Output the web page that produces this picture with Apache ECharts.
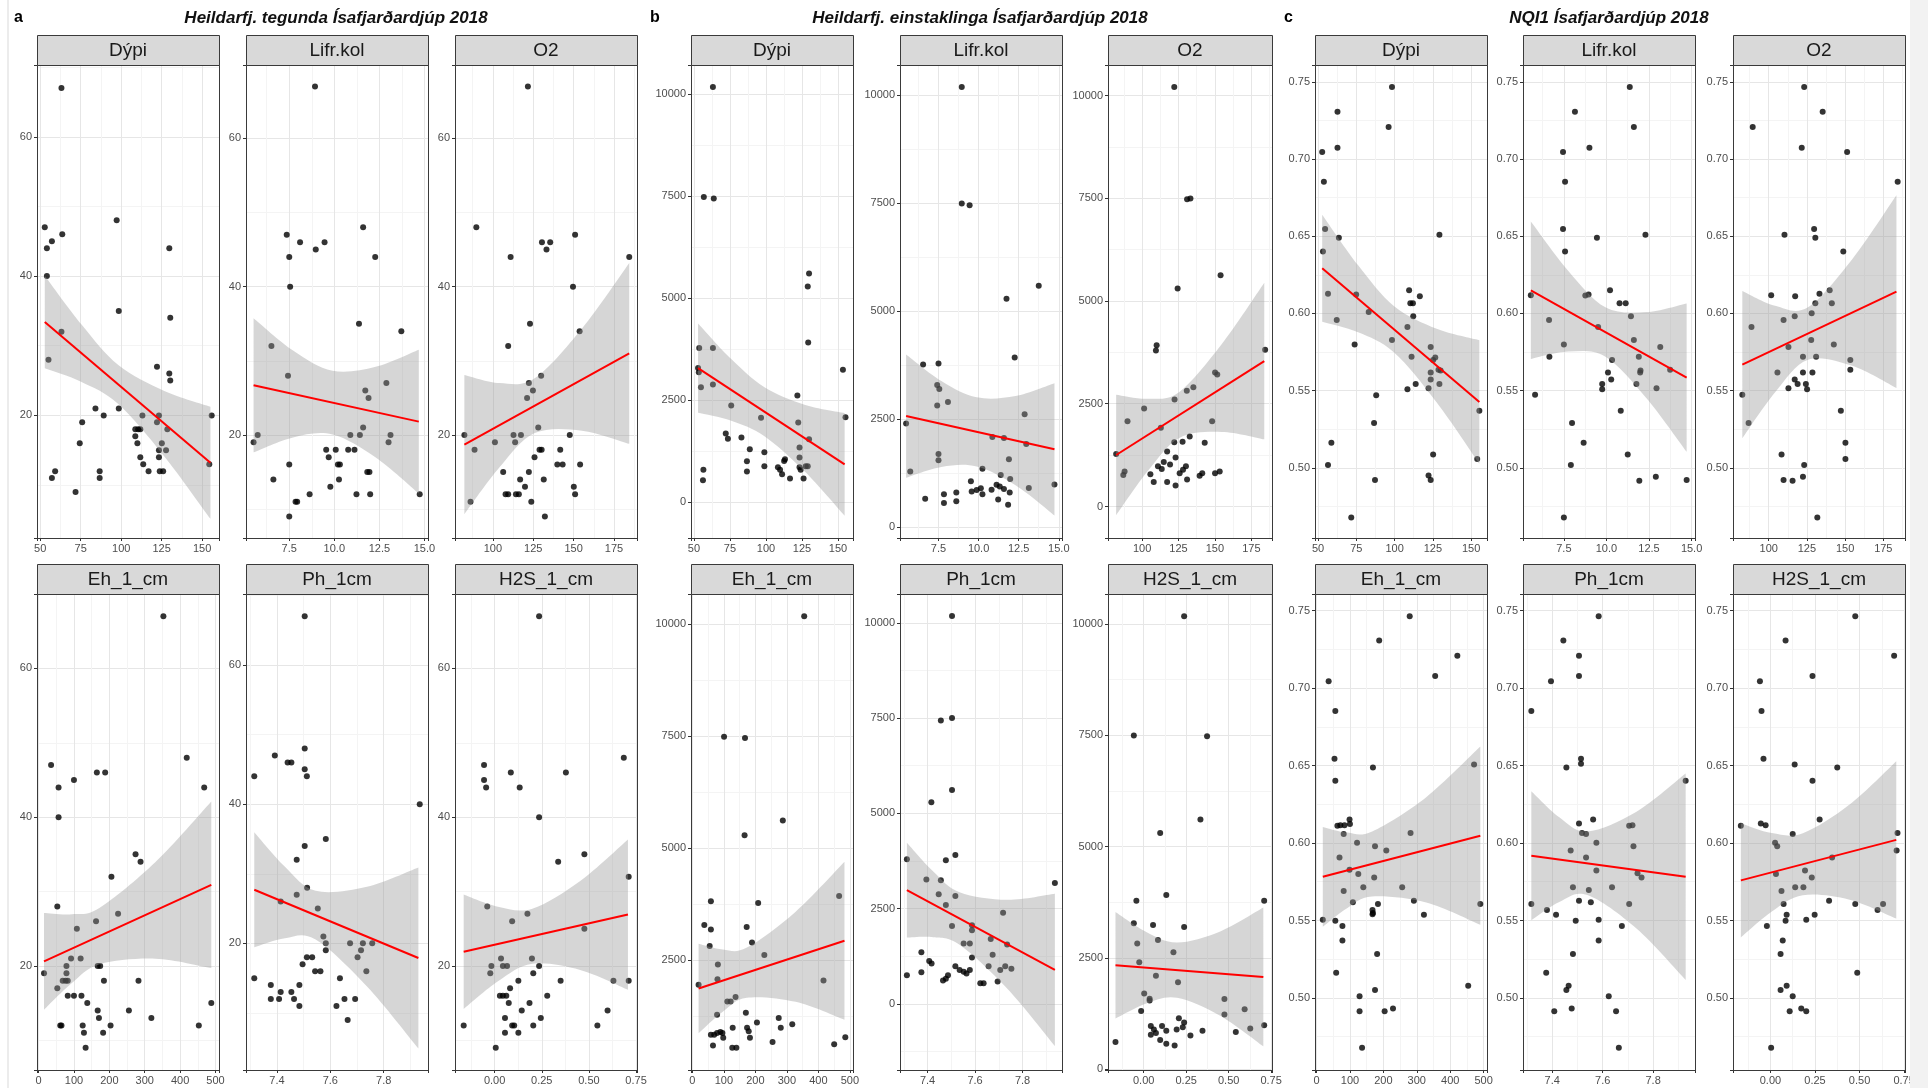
<!DOCTYPE html>
<html><head><meta charset="utf-8">
<script src="https://cdn.jsdelivr.net/npm/echarts@6.0.0/dist/echarts.min.js"></script>
<style>html,body{margin:0;padding:0;background:#fff}#c{width:1928px;height:1088px}</style>
</head><body><div id="c"></div>
<script>
// ---------------- DATA ----------------
const predictors = ['Dýpi','Lifr.kol','O2','Eh_1_cm','Ph_1cm','H2S_1_cm'];
const groupLetters = ['a','b','c'];
const groupTitles = ['Heildarfj. tegunda Ísafjarðardjúp 2018','Heildarfj. einstaklinga Ísafjarðardjúp 2018','NQI1 Ísafjarðardjúp 2018'];

// x-axis extents and tick steps per predictor
const xRanges = [[48,160.4],[5.1,15.2],[76.6,189.2],[-4.5,510],[7.284,7.966],[-0.21,0.755]];
const xSteps = [25,2.5,25,100,0.2,0.25];
const xDecimals = [0,1,0,0,1,2];
// y-axis extents per group / panel and tick steps per group
const yRanges = [
  [[2.4,70.3],[6.1,69.9],[6.1,69.9],[6.0,70.0],[1.8,70.2],[6.0,70.0]],
  [[-876,10720],[-260,10698],[-767,10742],[47,10666],[-1733,10756],[-16,10670]],
  [[0.4546,0.7609],[0.4546,0.7609],[0.4546,0.7609],[0.4535,0.7607],[0.4535,0.7607],[0.4535,0.7607]]
];
const ySteps = [20,2500,0.05];
const yDecimals = [0,0,2];

// ---- group a: Heildarfj. tegunda ----
const a_dypi = [[63.1,67],[52.8,47],[54.1,44],[57.2,45],[63.6,46],[54.1,40],[55.1,28],[63.1,32],[57.2,11],[59.2,12],[71.8,9],[74.4,16],[75.9,19],[84.1,21],[89.2,20],[86.7,12],[86.7,11],[97.2,48],[98.5,35],[98.5,21],[108.7,18],[110.5,18],[111.8,18],[108.7,17],[110.0,16],[111.8,14],[113.1,20],[113.6,13],[116.9,12],[122.1,27],[122.1,19],[123.3,20],[123.3,15],[123.3,14],[123.8,12],[125.9,12],[125.1,16],[127.7,15],[128.5,18],[129.7,44],[130.3,34],[129.7,26],[130.3,25],[155.9,20],[154.4,13]];
const a_lifr = [[8.93,67],[5.52,19],[5.75,20],[6.51,32],[6.62,14],[7.36,47],[7.5,44],[7.55,40],[7.43,28],[7.5,16],[7.5,9],[7.85,11],[7.94,11],[8.1,46],[8.63,12],[8.97,45],[9.46,46],[9.55,18],[9.69,17],[9.78,13],[10.08,18],[10.2,16],[10.31,16],[10.26,14],[10.77,18],[10.89,20],[11.12,18],[11.23,12],[11.37,35],[11.42,20],[11.6,48],[11.6,21],[11.72,26],[11.9,25],[11.83,15],[11.95,15],[11.99,12],[12.27,44],[12.89,27],[13.01,19],[13.12,20],[13.72,34],[14.74,12]];
const a_o2 = [[121.7,67],[89.8,48],[82.4,20],[88.7,18],[86.2,11],[101.3,19],[106.4,15],[109.5,32],[111.0,44],[112.8,20],[113.8,19],[117.4,20],[107.9,12],[109.5,12],[114.3,12],[116.1,12],[116.9,14],[119.9,13],[121.2,25],[122.3,27],[123.0,35],[124.8,26],[122.3,15],[123.8,11],[125.8,17],[128.1,21],[128.9,18],[130.2,18],[129.9,28],[130.4,46],[133.2,45],[135.5,46],[131.5,14],[132.2,9],[139.9,16],[141.7,18],[143.2,16],[147.6,20],[149.6,40],[150.9,47],[150.1,13],[150.9,12],[153.7,34],[154.0,16],[184.4,44]];
const a_eh = [[352.8,67],[35.3,47],[56.5,44],[56.5,40],[100.0,45],[164.7,46],[188.2,46],[418.8,48],[468.2,44],[52.9,28],[15.3,19],[52.9,17],[61.2,12],[64.7,12],[68.2,18],[76.5,18],[82.4,18],[78.8,19],[78.8,20],[82.4,16],[100.0,16],[91.8,21],[108.2,25],[118.8,21],[121.2,16],[124.7,12],[128.2,11],[132.9,9],[137.6,15],[162.4,26],[167.1,20],[174.1,20],[167.1,14],[170.6,13],[182.4,11],[184.7,18],[203.5,12],[205.9,32],[224.7,27],[255.3,14],[274.1,35],[288.2,34],[282.4,18],[318.8,13],[452.9,12],[488.2,15]];
const a_ph = [[7.504,67],[7.315,44],[7.392,47],[7.440,46],[7.454,46],[7.504,48],[7.504,45],[7.512,44],[7.583,35],[7.504,34],[7.474,32],[7.513,28],[7.474,27],[7.414,26],[7.553,25],[7.574,21],[7.583,20],[7.583,19],[7.674,20],[7.722,20],[7.757,20],[7.715,19],[7.702,18],[7.735,16],[7.315,15],[7.377,14],[7.377,12],[7.408,12],[7.414,13],[7.454,13],[7.464,12],[7.484,11],[7.484,14],[7.496,17],[7.512,18],[7.532,18],[7.543,16],[7.563,16],[7.623,11],[7.636,15],[7.653,12],[7.665,9],[7.693,12],[7.935,40]];
const a_h2s = [[0.236,67],[-0.056,47],[-0.056,45],[-0.045,44],[0.086,46],[0.133,44],[0.236,40],[0.378,46],[0.685,48],[0.337,34],[0.476,35],[0.711,32],[-0.039,28],[0.093,26],[0.174,27],[0.476,25],[-0.164,12],[-0.023,19],[-0.017,20],[0.034,21],[0.044,20],[0.066,20],[0.028,16],[0.044,16],[0.062,16],[0.082,17],[0.075,15],[0.055,13],[0.055,11],[0.093,12],[0.104,12],[0.126,18],[0.126,11],[0.144,14],[0.006,9],[0.185,15],[0.198,21],[0.205,19],[0.236,20],[0.205,12],[0.245,13],[0.279,16],[0.350,18],[0.545,12],[0.599,14],[0.630,18],[0.711,18]];

// ---- group b: Heildarfj. einstaklinga ----
const b_dypi = [[63.2,10180],[56.9,7482],[63.8,7448],[53.7,3780],[63.2,3780],[52.9,3290],[53.4,3187],[54.9,2818],[63.2,2886],[75.9,2371],[72.1,1684],[73.6,1555],[83.0,1589],[88.8,1297],[86.8,1005],[86.8,756],[96.6,2070],[98.9,1228],[98.9,885],[108.3,859],[109.8,799],[111.2,687],[112.6,1014],[113.2,1057],[116.7,584],[121.8,2620],[122.4,1958],[123.3,1340],[123.3,1100],[123.3,859],[124.1,799],[126.1,584],[127.6,885],[129.0,885],[129.9,1546],[129.0,5291],[129.9,5609],[129.3,3917],[153.4,3247],[155.2,2087],[56.6,799],[56.3,541]];
const b_lifr = [[8.95,10187],[8.95,7492],[9.44,7451],[13.75,5585],[11.74,5284],[12.25,3920],[6.54,3758],[7.5,3783],[7.42,3287],[7.55,3190],[7.42,2808],[8.09,2890],[5.48,2395],[12.87,2606],[12.97,1916],[10.86,2078],[11.58,2054],[7.5,1688],[7.5,1542],[11.89,1567],[5.74,1283],[10.24,1347],[6.67,649],[7.84,755],[7.84,552],[8.61,795],[8.61,593],[9.52,1055],[9.57,820],[9.88,852],[10.14,893],[10.24,755],[10.81,860],[11.12,974],[11.38,1201],[11.32,933],[11.58,877],[11.97,1104],[11.94,795],[11.22,633],[11.84,511],[13.13,901],[14.73,982]];
const b_o2 = [[122.1,10204],[130.9,7476],[133.2,7493],[153.9,5627],[124.4,5303],[184.5,3811],[110.0,3922],[109.5,3794],[150.1,3257],[151.6,3214],[135.2,2899],[130.7,2813],[122.3,2600],[101.4,2387],[90.0,2072],[148.1,2072],[112.9,1918],[82.2,1279],[132.7,1705],[127.8,1577],[122.1,1560],[143.0,1552],[117.2,1338],[123.0,1194],[114.9,1083],[119.2,1023],[110.9,980],[113.5,912],[130.1,980],[128.1,895],[125.8,810],[105.7,784],[108.0,597],[117.2,597],[123.0,512],[130.9,656],[87.1,767],[88.0,853],[139.5,750],[141.3,810],[150.1,810],[153.3,853]];
const b_eh = [[355,10172],[100.5,7484],[167.0,7453],[287.1,5611],[165.7,5282],[58.7,3809],[208.8,3770],[465.9,3926],[37.8,3284],[58.7,3182],[172.3,3237],[54.8,2813],[189.2,2892],[80.9,2398],[228.4,2610],[19.6,1951],[79.6,2069],[416.3,2045],[110.9,1575],[121.4,1575],[137.0,1677],[78.3,1277],[169.7,1324],[274.1,1207],[204.9,1105],[280.6,987],[317.1,1066],[127.9,987],[173.6,987],[178.8,909],[182.7,768],[58.7,831],[69.2,831],[78.3,870],[88.7,893],[97.9,768],[95.3,870],[65.3,596],[126.6,541],[139.6,541],[254.5,674],[450.2,619],[485.5,776]];
const b_ph = [[7.503,10176],[7.503,7503],[7.456,7438],[7.503,5613],[7.416,5291],[7.313,3797],[7.477,3770],[7.517,3908],[7.395,3263],[7.456,3244],[7.936,3171],[7.447,2876],[7.517,2830],[7.477,2599],[7.718,2396],[7.503,2046],[7.587,2065],[7.587,1936],[7.666,1705],[7.552,1585],[7.578,1585],[7.735,1558],[7.674,1290],[7.374,1355],[7.407,1124],[7.417,1060],[7.587,1217],[7.313,756],[7.374,830],[7.517,986],[7.535,894],[7.552,848],[7.578,894],[7.564,802],[7.486,756],[7.477,664],[7.465,618],[7.657,986],[7.706,894],[7.727,986],[7.753,922],[7.622,544],[7.636,544],[7.695,590]];
const b_h2s = [[0.238,10173],[-0.058,7492],[0.373,7476],[0.334,5607],[0.097,5307],[0.133,3911],[-0.043,3785],[0.709,3785],[-0.058,3281],[0.055,3241],[0.238,3194],[-0.038,2823],[0.084,2902],[0.175,2626],[-0.026,2405],[0.072,2098],[0.202,1956],[0.003,1703],[0.035,1585],[0.035,1546],[0.475,1577],[-0.015,1309],[0.475,1230],[0.594,1349],[0.207,1143],[0.238,1049],[0.230,946],[0.042,970],[0.060,891],[0.072,812],[0.042,773],[0.108,970],[0.133,867],[0.097,655],[0.133,576],[0.182,536],[0.194,891],[0.275,757],[0.346,867],[0.542,836],[0.627,915],[0.709,986],[-0.166,615]];

// ---- group c: NQI1 ----
const c_dypi = [[98.3,0.7466],[96.1,0.7207],[62.7,0.7307],[62.7,0.7073],[52.7,0.7046],[53.8,0.6853],[54.6,0.6547],[53.2,0.6402],[63.6,0.6490],[129.3,0.6509],[56.5,0.6127],[62.2,0.5957],[74.9,0.6123],[73.9,0.5799],[83.1,0.6010],[98.3,0.5828],[109.5,0.6150],[108.4,0.5912],[110.3,0.6066],[112.0,0.6066],[112.2,0.5982],[116.5,0.6112],[111.1,0.5719],[108.4,0.5510],[113.8,0.5544],[122.2,0.5515],[123.6,0.5783],[123.6,0.5617],[123.6,0.5572],[125.2,0.5699],[126.6,0.5715],[128.7,0.5635],[130.1,0.5631],[129.3,0.5544],[125.2,0.5086],[122.2,0.4950],[123.6,0.4921],[87.2,0.4921],[86.6,0.5290],[88.0,0.5470],[58.7,0.5163],[56.5,0.5018],[71.7,0.4678],[155.4,0.5370],[154.0,0.5057]];
const c_lifr = [[11.37,0.7466],[11.61,0.7207],[8.15,0.7307],[9.0,0.7073],[7.45,0.7046],[7.57,0.6853],[7.45,0.6547],[7.57,0.6402],[9.44,0.6490],[12.29,0.6509],[5.56,0.6118],[6.63,0.5957],[8.76,0.6116],[8.95,0.6123],[7.5,0.5799],[9.51,0.5912],[10.21,0.6150],[10.77,0.6066],[11.13,0.6066],[11.44,0.5982],[11.61,0.5828],[10.33,0.5699],[6.65,0.5719],[11.90,0.5719],[13.16,0.5783],[10.09,0.5617],[10.28,0.5572],[11.98,0.5617],[12.0,0.5631],[9.75,0.5544],[9.75,0.5510],[11.76,0.5544],[12.94,0.5515],[13.74,0.5635],[5.81,0.5474],[10.84,0.5370],[7.98,0.5290],[8.66,0.5163],[7.91,0.5018],[11.25,0.5086],[12.90,0.4943],[11.93,0.4916],[14.71,0.4921],[7.5,0.4678]];
const c_o2 = [[123.2,0.7466],[135.3,0.7307],[89.5,0.7207],[121.6,0.7073],[151.3,0.7046],[184.4,0.6853],[110.3,0.6509],[129.7,0.6547],[130.5,0.6490],[148.8,0.6402],[101.6,0.6118],[117.3,0.6112],[133.2,0.6127],[139.9,0.6150],[141.3,0.6066],[130.5,0.6066],[128.1,0.6002],[109.7,0.5957],[117.0,0.5982],[88.7,0.5912],[127.8,0.5828],[112.9,0.5783],[142.6,0.5799],[122.4,0.5719],[131.0,0.5719],[153.4,0.5699],[153.4,0.5635],[105.7,0.5617],[122.4,0.5617],[128.6,0.5617],[117.0,0.5572],[118.9,0.5544],[124.3,0.5544],[112.9,0.5515],[125.1,0.5510],[82.7,0.5474],[86.8,0.5290],[147.2,0.5370],[150.2,0.5163],[150.2,0.5057],[108.4,0.5086],[123.2,0.5018],[109.7,0.4921],[115.6,0.4916],[122.4,0.4943],[131.8,0.4678]];
const c_eh = [[278.8,0.7464],[187.5,0.7307],[421.3,0.7208],[355.0,0.7078],[36.3,0.7044],[56.3,0.6852],[53.8,0.6544],[56.3,0.6401],[168.8,0.6487],[471.3,0.6507],[62.5,0.6111],[71.3,0.6115],[83.8,0.6115],[98.8,0.6151],[100.0,0.6122],[81.3,0.6058],[281.3,0.6065],[121.3,0.6002],[68.8,0.5907],[175.0,0.5979],[208.8,0.5952],[98.8,0.5827],[125.0,0.5800],[172.5,0.5777],[81.3,0.5691],[140.0,0.5714],[256.3,0.5714],[108.8,0.5617],[183.8,0.5607],[167.5,0.5567],[167.5,0.5540],[168.8,0.5549],[291.3,0.5628],[321.3,0.5537],[490.0,0.5607],[18.8,0.5505],[56.3,0.5499],[77.5,0.5465],[77.5,0.5370],[181.3,0.5283],[58.8,0.5163],[175.0,0.5052],[128.8,0.5011],[128.8,0.4914],[203.8,0.4914],[228.8,0.4932],[453.8,0.5079],[136.3,0.4678]];
const c_ph = [[7.584,0.7464],[7.444,0.7307],[7.506,0.7208],[7.506,0.7078],[7.395,0.7044],[7.317,0.6852],[7.514,0.6544],[7.514,0.6512],[7.456,0.6487],[7.929,0.6401],[7.562,0.6151],[7.506,0.6126],[7.518,0.6065],[7.534,0.6058],[7.705,0.6111],[7.718,0.6115],[7.575,0.6002],[7.722,0.5979],[7.473,0.5952],[7.534,0.5907],[7.575,0.5822],[7.738,0.5805],[7.754,0.5777],[7.482,0.5714],[7.545,0.5696],[7.637,0.5714],[7.317,0.5607],[7.506,0.5628],[7.553,0.5617],[7.705,0.5607],[7.379,0.5567],[7.415,0.5537],[7.493,0.5499],[7.584,0.5505],[7.676,0.5465],[7.584,0.5370],[7.482,0.5283],[7.376,0.5163],[7.456,0.5052],[7.465,0.5079],[7.624,0.5011],[7.408,0.4914],[7.477,0.4932],[7.653,0.4914],[7.664,0.4678]];
const c_h2s = [[0.476,0.7464],[0.085,0.7307],[0.694,0.7208],[0.236,0.7078],[-0.059,0.7044],[-0.050,0.6852],[-0.039,0.6544],[0.136,0.6507],[0.375,0.6487],[0.236,0.6401],[-0.166,0.6111],[-0.054,0.6126],[-0.027,0.6115],[0.276,0.6151],[0.125,0.6058],[0.713,0.6065],[0.026,0.6002],[0.038,0.5979],[0.708,0.5952],[0.346,0.5907],[0.031,0.5800],[0.194,0.5822],[0.232,0.5777],[0.062,0.5691],[0.139,0.5714],[0.185,0.5714],[0.074,0.5607],[0.329,0.5628],[0.476,0.5607],[0.601,0.5567],[0.632,0.5607],[0.091,0.5537],[0.085,0.5499],[0.201,0.5505],[0.248,0.5537],[-0.020,0.5465],[0.069,0.5370],[0.057,0.5283],[0.487,0.5163],[0.057,0.5052],[0.091,0.5079],[0.125,0.5011],[0.108,0.4914],[0.173,0.4932],[0.201,0.4914],[0.004,0.4678]];

// ---- linear fits (end points) ----
const a_dypi_fit = [[52.8,33.4],[155.1,13.2]];
const a_lifr_fit = [[5.52,26.7],[14.69,21.8]];
const a_o2_fit = [[82.4,18.7],[184.4,31.0]];
const a_eh_fit = [[15.3,20.6],[488.2,30.9]];
const a_ph_fit = [[7.315,27.7],[7.930,17.9]];
const a_h2s_fit = [[-0.164,21.9],[0.707,26.9]];
const b_dypi_fit = [[52.9,3290],[154.6,928]];
const b_lifr_fit = [[5.48,2565],[14.73,1794]];
const b_o2_fit = [[82.2,1253],[183.9,3538]];
const b_eh_fit = [[19.6,1865],[482.9,2931]];
const b_ph_fit = [[7.313,2986],[7.936,894]];
const b_h2s_fit = [[-0.166,2334],[0.704,2074]];
const c_dypi_fit = [[52.7,0.6293],[155.4,0.5427]];
const c_lifr_fit = [[5.56,0.6150],[14.71,0.5585]];
const c_o2_fit = [[82.7,0.5669],[183.6,0.6141]];
const c_eh_fit = [[18.8,0.5782],[490,0.6047]];
const c_ph_fit = [[7.317,0.5918],[7.929,0.5782]];
const c_h2s_fit = [[-0.166,0.5759],[0.706,0.6020]];

// ---- confidence bands [x, lower, upper] ----
const a_dypi_band = [[52.8,26.75,40.05],[75.5,24.8,33.04],[98.2,21.63,27.23],[126.65,14.11,23.51],[155.1,5.15,21.25]];
const a_lifr_band = [[5.52,17.65,35.75],[7.71,19.67,31.39],[9.90,20.06,28.66],[12.3,16.96,29.2],[14.69,12.1,31.5]];
const a_o2_band = [[82.4,9.3,28.1],[104.15,15.63,27.01],[125.9,20.25,27.65],[155.15,20.58,34.36],[184.4,18.8,43.2]];
const a_eh_band = [[15.3,14.1,27.1],[94.1,17.7,26.94],[172.9,20.23,27.83],[330.55,20.97,33.97],[488.2,19.7,42.1]];
const a_ph_band = [[7.315,19.45,35.95],[7.43,20.75,30.99],[7.545,20.54,27.54],[7.7375,13.8,28.14],[7.930,4.9,30.9]];
const a_h2s_band = [[-0.164,14.2,29.6],[0.018,17.94,27.96],[0.200,20.29,27.69],[0.454,19.46,31.42],[0.707,16.8,37.0]];
const b_dypi_band = [[52.9,2195,4385],[75.94,2000,3510],[98.98,1620,2820],[126.79,758,2390],[154.6,-330,2186]];
const b_lifr_band = [[5.48,1137,3993],[7.68,1387,3377],[9.88,1398,2998],[12.305,964,3028],[14.73,264,3324]];
const b_o2_band = [[82.2,-213,2719],[103.9,862,2620],[125.6,1668,2788],[154.75,1814,3952],[183.9,1633,5443]];
const b_eh_band = [[19.6,866,2864],[96.28,1345,2737],[172.96,1658,2778],[327.93,1568,3580],[482.9,1168,4694]];
const b_ph_band = [[7.313,1742,4230],[7.424,1750,3476],[7.5347,1552,2932],[7.735,406,2732],[7.936,-1102,2890]];
const b_h2s_band = [[-0.166,1139,3529],[0.015,1477,3083],[0.196,1606,2846],[0.450,1204,3096],[0.704,517,3631]];
const c_dypi_band = [[52.7,0.5946,0.6640],[76.2,0.5878,0.6312],[99.7,0.5747,0.6047],[127.55,0.5424,0.5901],[155.4,0.5027,0.5827]];
const c_lifr_band = [[5.56,0.5705,0.6595],[7.75,0.5753,0.6277],[9.94,0.5720,0.6040],[12.325,0.5455,0.6009],[14.71,0.5105,0.6065]];
const c_o2_band = [[82.7,0.5192,0.6146],[104.2,0.5490,0.6050],[125.7,0.5700,0.6040],[154.65,0.5661,0.6351],[183.6,0.5517,0.6765]];
const c_eh_band = [[18.8,0.5460,0.6104],[92.65,0.5581,0.6067],[166.5,0.5655,0.6075],[328.25,0.5616,0.6296],[490,0.5472,0.6622]];
const c_ph_band = [[7.317,0.5502,0.6334],[7.428,0.5620,0.6166],[7.5394,0.5664,0.6074],[7.734,0.5448,0.6202],[7.929,0.5116,0.6448]];
const c_h2s_band = [[-0.166,0.5390,0.6128],[0.008,0.5558,0.6064],[0.182,0.5663,0.6063],[0.444,0.5634,0.6248],[0.706,0.5512,0.6528]];

const points = [[a_dypi,a_lifr,a_o2,a_eh,a_ph,a_h2s],[b_dypi,b_lifr,b_o2,b_eh,b_ph,b_h2s],[c_dypi,c_lifr,c_o2,c_eh,c_ph,c_h2s]];
const fits = [[a_dypi_fit,a_lifr_fit,a_o2_fit,a_eh_fit,a_ph_fit,a_h2s_fit],[b_dypi_fit,b_lifr_fit,b_o2_fit,b_eh_fit,b_ph_fit,b_h2s_fit],[c_dypi_fit,c_lifr_fit,c_o2_fit,c_eh_fit,c_ph_fit,c_h2s_fit]];
const bands = [[a_dypi_band,a_lifr_band,a_o2_band,a_eh_band,a_ph_band,a_h2s_band],[b_dypi_band,b_lifr_band,b_o2_band,b_eh_band,b_ph_band,b_h2s_band],[c_dypi_band,c_lifr_band,c_o2_band,c_eh_band,c_ph_band,c_h2s_band]];

// ---------------- LAYOUT / STYLE ----------------
const FONT = "'Liberation Sans', Arial, sans-serif";
const colLeft = [[37,246,455],[691,900,1108],[1315,1523,1733]];
const colWidth = [182,162,164];
const colWidths = [[182,182,182],[162,162,164],[172,172,172]];
const rowTop = [65,594];
const rowHeight = [473,476];
const stripTop = [35,564];
const stripH = 30;
const titleX = [336,980,1609];
const letterX = [14,650,1284];
const MAJOR = '#e6e6e6', MINOR = '#f4f4f4', BORDER = '#3a3a3a';

function fmt(step, dec){
  return function(v){
    const r = v/step;
    return Math.abs(r - Math.round(r)) < 1e-6 ? v.toFixed(dec) : '';
  };
}

// Catmull-Rom curve through pixel points, as cubic Bezier path commands
function curveCmds(pts){
  let d = '';
  for (let i=0; i<pts.length-1; i++){
    const p0 = pts[i-1] || pts[i], p1 = pts[i], p2 = pts[i+1], p3 = pts[i+2] || pts[i+1];
    const c1x = p1[0] + (p2[0]-p0[0])/6, c1y = p1[1] + (p2[1]-p0[1])/6;
    const c2x = p2[0] - (p3[0]-p1[0])/6, c2y = p2[1] - (p3[1]-p1[1])/6;
    d += ' C' + c1x + ',' + c1y + ' ' + c2x + ',' + c2y + ' ' + p2[0] + ',' + p2[1];
  }
  return d;
}
function bandRenderer(bd){
  return function(params, api){
    if (params.dataIndex !== 0) return null;
    const up = bd.map(d => api.coord([d[0], d[2]]));
    const lo = bd.map(d => api.coord([d[0], d[1]])).reverse();
    let d = 'M' + up[0][0] + ',' + up[0][1] + curveCmds(up);
    d += ' L' + lo[0][0] + ',' + lo[0][1] + curveCmds(lo) + ' Z';
    return {type:'path', shape:{pathData:d}, style:{fill:'rgba(153,153,153,0.4)', stroke:null}};
  };
}

const grids=[], xAxes=[], yAxes=[], series=[], graphics=[];
let k=0;
for (let g=0; g<3; g++){
  graphics.push({type:'text', x:letterX[g], y:18, z:20, style:{text:groupLetters[g], font:"bold 16px "+FONT, fill:'#000', textAlign:'left', textVerticalAlign:'middle'}});
  graphics.push({type:'text', x:titleX[g], y:18, z:20, style:{text:groupTitles[g], font:"italic bold 17px "+FONT, fill:'#111', textAlign:'center', textVerticalAlign:'middle'}});
  for (let p=0; p<6; p++){
    const row = p<3?0:1, col = p%3;
    const left = colLeft[g][col], w = colWidths[g][col], top = rowTop[row], h = rowHeight[row];
    grids.push({left:left, top:top, width:w, height:h, show:false, containLabel:false});
    const xr = xRanges[p], yr = yRanges[g][p];
    const xs = xSteps[p], ys = ySteps[g];
    // minor grid axes
    xAxes.push({gridIndex:k, type:'value', min:xr[0], max:xr[1], minInterval:xs/2, maxInterval:xs/2,
      axisLine:{show:false, onZero:false}, axisTick:{show:false}, axisLabel:{show:false}, splitLine:{show:true, lineStyle:{color:MINOR, width:1}}});
    yAxes.push({gridIndex:k, type:'value', min:yr[0], max:yr[1], minInterval:ys/2, maxInterval:ys/2,
      axisLine:{show:false, onZero:false}, axisTick:{show:false}, axisLabel:{show:false}, splitLine:{show:true, lineStyle:{color:MINOR, width:1}}});
    // major axes
    xAxes.push({gridIndex:k, type:'value', position:'bottom', min:xr[0], max:xr[1], minInterval:xs, maxInterval:xs,
      axisLine:{show:false, onZero:false}, axisTick:{show:true, length:3, lineStyle:{color:'#333', width:1}},
      axisLabel:{show:true, margin:5, color:'#4d4d4d', fontSize:11, fontFamily:FONT, formatter:fmt(xs, xDecimals[p])},
      splitLine:{show:true, lineStyle:{color:MAJOR, width:1}}});
    yAxes.push({gridIndex:k, type:'value', position:'left', min:yr[0], max:yr[1], minInterval:ys, maxInterval:ys,
      axisLine:{show:false, onZero:false}, axisTick:{show:true, length:3, lineStyle:{color:'#333', width:1}},
      axisLabel:{show:true, margin:5, color:'#4d4d4d', fontSize:11, fontFamily:FONT, formatter:fmt(ys, yDecimals[g])},
      splitLine:{show:true, lineStyle:{color:MAJOR, width:1}}});
    const ai = 2*k+1;
    series.push({type:'scatter', xAxisIndex:ai, yAxisIndex:ai, data:points[g][p], symbolSize:6, itemStyle:{color:'#000'}, z:2, silent:true});
    const band = bands[g][p];
    series.push({type:'custom', xAxisIndex:ai, yAxisIndex:ai, data:band, renderItem:bandRenderer(band), clip:true, z:3, silent:true});
    series.push({type:'line', xAxisIndex:ai, yAxisIndex:ai, data:fits[g][p], symbol:'none', lineStyle:{color:'#ff0000', width:2}, z:4, silent:true});
    // strip + border
    graphics.push({type:'rect', z:20, shape:{x:left+0.5, y:stripTop[row]+0.5, width:w, height:stripH}, style:{fill:'#d9d9d9', stroke:BORDER, lineWidth:1}});
    graphics.push({type:'text', z:21, x:left+w/2, y:stripTop[row]+stripH/2+1, style:{text:predictors[p], font:"19px "+FONT, fill:'#1a1a1a', textAlign:'center', textVerticalAlign:'middle'}});
    graphics.push({type:'rect', z:20, shape:{x:left+0.5, y:top+0.5, width:w, height:h}, style:{fill:'rgba(0,0,0,0)', stroke:BORDER, lineWidth:1}});
    k++;
  }
}
graphics.push({type:'rect', z:1, shape:{x:1910, y:0, width:18, height:1088}, style:{fill:'#f2f2f2'}});
graphics.push({type:'rect', z:1, shape:{x:7, y:0, width:2, height:1088}, style:{fill:'#ececec'}});

const chart = echarts.init(document.getElementById('c'), null, {renderer:'canvas', width:1928, height:1088});
chart.setOption({
  animation:false,
  backgroundColor:'#ffffff',
  grid:grids, xAxis:xAxes, yAxis:yAxes, series:series, graphic:graphics
});
</script></body></html>
